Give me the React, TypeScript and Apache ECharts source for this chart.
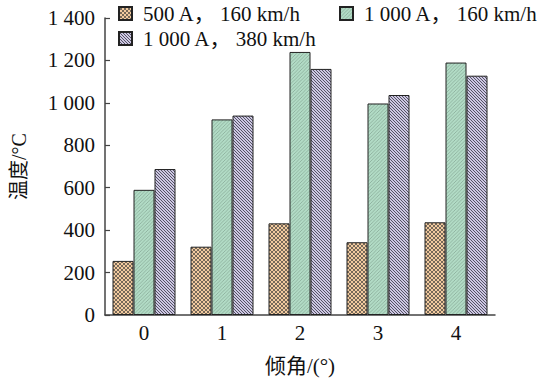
import React, { useEffect, useRef } from "react";
import * as echarts from "echarts";

const categories = ["0", "1", "2", "3", "4"];
const seriesNames = ["500 A， 160 km/h", "1 000 A， 160 km/h", "1 000 A， 380 km/h"];
const s500_160 = [255, 322, 432, 343, 437];
const s1000_160 = [590, 922, 1240, 997, 1190];
const s1000_380 = [688, 940, 1160, 1037, 1128];
const yTicks = [0, 200, 400, 600, 800, 1000, 1200, 1400];

const svgUrl = (s: string) => "data:image/svg+xml;charset=utf-8," + encodeURIComponent(s);

const patCross = {
  image: svgUrl(
    '<svg xmlns="http://www.w3.org/2000/svg" width="4" height="4"><rect width="4" height="4" fill="#f3cb9f"/><path d="M0,0L4,4M4,0L0,4M-1,3L1,5M3,-1L5,1M-1,1L1,-1M3,5L5,3" stroke="#333" stroke-width="0.65" fill="none"/></svg>'
  ),
  repeat: "repeat",
  imageWidth: 4,
  imageHeight: 4,
};
const patGreen = {
  image: svgUrl(
    '<svg xmlns="http://www.w3.org/2000/svg" width="3.5" height="3.5"><rect width="3.5" height="3.5" fill="#b2dcc6"/><path d="M0,3.5L3.5,0M-1,1L1,-1M2.5,4.5L4.5,2.5" stroke="#6e8c7c" stroke-width="0.5" fill="none"/></svg>'
  ),
  repeat: "repeat",
  imageWidth: 3.5,
  imageHeight: 3.5,
};
const patPurple = {
  image: svgUrl(
    '<svg xmlns="http://www.w3.org/2000/svg" width="3" height="3"><rect width="3" height="3" fill="#cdc7e3"/><path d="M0,0L3,3M-1,2L1,4M2,-1L4,1" stroke="#2e2e3a" stroke-width="0.75" fill="none"/></svg>'
  ),
  repeat: "repeat",
  imageWidth: 3,
  imageHeight: 3,
};
const patterns = [patCross, patGreen, patPurple];
const values = [s500_160, s1000_160, s1000_380];

const FONT = "'Liberation Serif', 'Times New Roman', 'Noto Sans CJK SC', serif";

export default function App() {
  const ref = useRef<HTMLDivElement>(null);
  useEffect(() => {
    if (!ref.current) return;
    const chart = echarts.init(ref.current, undefined, { renderer: "svg" });
    const legendBase = {
      orient: "horizontal",
      itemWidth: 13,
      itemHeight: 13,
      itemGap: 6,
      icon: "rect",
      textStyle: { fontFamily: FONT, fontSize: 21, color: "#111", padding: [0, 0, 0, 6] },
      padding: 0,
      selectedMode: false,
    };
    chart.setOption({
      animation: false,
      backgroundColor: "#fff",
      textStyle: { fontFamily: FONT },
      grid: { left: 105, right: 53, top: 18, bottom: 67, outerBoundsMode: "none", containLabel: false },
      legend: [
        { ...legendBase, data: [seriesNames[0]], left: 118, top: 3 },
        { ...legendBase, data: [seriesNames[1]], left: 339, top: 3 },
        { ...legendBase, data: [seriesNames[2]], left: 118, top: 28 },
      ],
      xAxis: {
        type: "category",
        data: categories,
        name: "倾角/(°)",
        nameLocation: "middle",
        nameGap: 40,
        nameTextStyle: { fontFamily: FONT, fontSize: 21, color: "#111" },
        axisLine: { lineStyle: { color: "#444", width: 1.5 } },
        axisTick: { show: false },
        axisLabel: { fontFamily: FONT, fontSize: 21, color: "#111", margin: 7 },
      },
      yAxis: {
        type: "value",
        min: 0,
        max: 1400,
        interval: 200,
        name: "温度/°C",
        nameLocation: "middle",
        nameGap: 76,
        nameTextStyle: { fontFamily: FONT, fontSize: 20, color: "#111" },
        axisLine: { show: true, lineStyle: { color: "#444", width: 1.5 } },
        axisTick: { show: true, inside: true, length: 5, lineStyle: { color: "#444", width: 1.2 } },
        splitLine: { show: false },
        axisLabel: {
          fontFamily: FONT,
          fontSize: 21,
          color: "#111",
          margin: 10,
          formatter: (v: number) => (yTicks.includes(v) ? (v >= 1000 ? Math.floor(v / 1000) + " " + String(v % 1000).padStart(3, "0") : String(v)) : ""),
        },
      },
      series: values.map((vals, i) => ({
        type: "bar",
        name: seriesNames[i],
        data: vals,
        barWidth: 21,
        barGap: "0%",
        itemStyle: { color: patterns[i], borderColor: "#222", borderWidth: 1 },
      })),
    });
    return () => chart.dispose();
  }, []);
  return <div ref={ref} style={{ width: 548, height: 382, position: "absolute", left: 0, top: 0 }} />;
}
